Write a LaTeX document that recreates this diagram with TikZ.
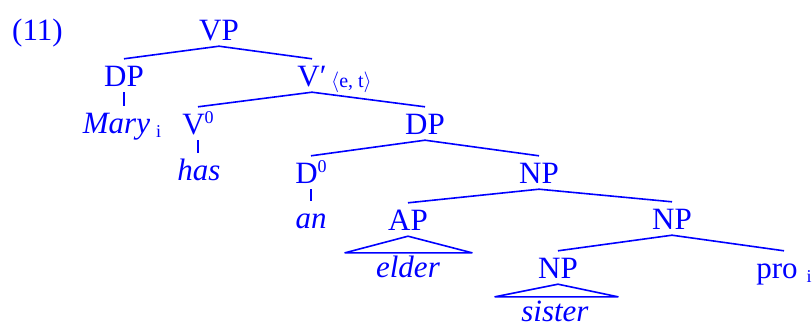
\documentclass[tikz,border=0pt]{standalone}
\usepackage{fontspec}
\setmainfont{Liberation Serif}
\usetikzlibrary{calc}
\begin{document}
\begin{tikzpicture}[x=1pt,y=-1pt,
  every node/.style={text=blue, font=\fontsize{31}{37}\selectfont, inner xsep=0pt},
  cat/.style={anchor=base, text height=21pt, text depth=0pt, inner ysep=6pt},
  edge/.style={draw=blue, line width=1.6pt},
  small/.style={font=\fontsize{20}{24}\selectfont, anchor=base west, inner sep=0pt}]
\useasboundingbox (0,0) rectangle (812,327);
\newcommand{\supz}{\raisebox{11pt}{\fontsize{18}{18}\selectfont 0}}
\newcommand{\subi}{\raisebox{-4pt}{\fontsize{18}{18}\selectfont i}}
% nodes
\node[anchor=base west, inner sep=0pt] (ex) at (12,40) {(11)};
\node[cat] (VP) at (219,40) {VP};
\node[cat] (DP1) at (124,86) {DP};
\node[cat] (Vb) at (312,86) {V′};
\node[small] (Vbsub) at (331,87) {$\langle$e, t$\rangle$};
\node[cat] (Mary) at (122,133) {\textit{Mary}\hspace{6pt}\subi};
\node[cat] (V0) at (198,134) {V\supz};
\node[cat] (has) at (199,180) {\textit{has}};
\node[cat] (DP2) at (425,134) {DP};
\node[cat] (D0) at (311,183) {D\supz};
\node[cat] (an) at (311,228) {\textit{an}};
\node[cat] (NP1) at (539,183) {NP};
\node[cat] (AP) at (408,230) {AP};
\node[cat] (NP2) at (672,229) {NP};
\node[cat] (elder) at (408,277) {\textit{elder}};
\node[cat] (NP3) at (558,278) {NP};
\node[cat] (pro) at (784,278) {pro\hspace{9pt}\subi};
\node[cat] (sister) at (555,321) {\textit{sister}};
% branches
\draw[edge] (DP1.north) -- (VP.south) -- (Vb.north);
\draw[edge] (V0.north) -- (Vb.south) -- (DP2.north);
\draw[edge] (D0.north) -- (DP2.south) -- (NP1.north);
\draw[edge] (AP.north) -- (NP1.south) -- (NP2.north);
\draw[edge] (NP3.north) -- (NP2.south) -- (pro.north);
\draw[edge] (DP1.south) -- (DP1.south |- Mary.north);
\draw[edge] (V0.south) -- (V0.south |- has.north);
\draw[edge] (D0.south) -- (D0.south |- an.north);
% triangles
\draw[edge, line join=round] (AP.south) -- ($(elder.north)+(-63,3)$) -- ($(elder.north)+(64,3)$) -- cycle;
\draw[edge, line join=round] (NP3.south) -- ($(sister.north)+(-60,3)$) -- ($(sister.north)+(63,3)$) -- cycle;
\end{tikzpicture}
\end{document}
